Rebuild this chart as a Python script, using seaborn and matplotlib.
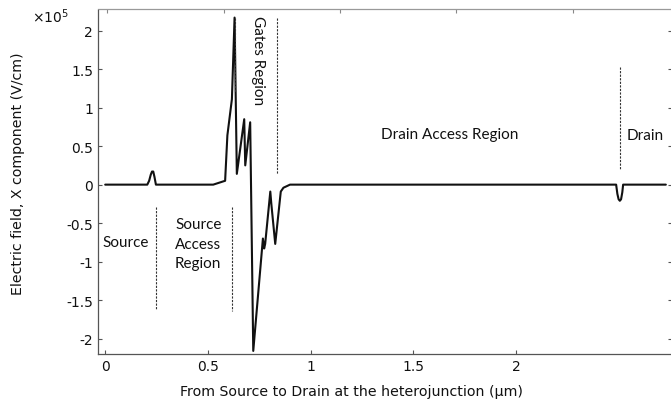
import matplotlib
matplotlib.use("Agg")
import matplotlib.pyplot as plt
import seaborn as sns
import pandas as pd

# Electric field profile along the channel (x in µm, field in 1e5 V/cm)
position_um = [0.0, 0.205, 0.214, 0.222, 0.228, 0.234, 0.240, 0.247,
               0.526, 0.584, 0.595, 0.617, 0.630, 0.641, 0.677, 0.682,
               0.706, 0.721, 0.768, 0.774, 0.779, 0.804, 0.809, 0.828,
               0.855, 0.868, 0.900, 2.488, 2.494, 2.500, 2.506, 2.512,
               2.518, 2.522, 2.730]
field_e5 = [0.0, 0.0, 0.05, 0.13, 0.17, 0.17, 0.10, 0.0,
            0.0, 0.05, 0.64, 1.11, 2.17, 0.14, 0.85, 0.25,
            0.81, -2.16, -0.70, -0.83, -0.77, -0.09, -0.25, -0.77,
            -0.09, -0.04, 0.0, 0.0, -0.12, -0.19, -0.21, -0.19,
            -0.10, 0.0, 0.0]

# Region boundaries drawn as dashed markers: (x, y_start, y_end)
boundary_x = [0.246, 0.618, 0.633, 0.839, 2.507]
boundary_y0 = [-0.29, -0.29, 2.17, 2.17, 1.53]
boundary_y1 = [-1.63, -1.64, 1.20, 0.14, 0.20]

# Region labels
region_text = ["Source", "Source\nAccess\nRegion", "Drain Access Region", "Drain"]
region_x = [0.102, 0.453, 1.677, 2.63]
region_y = [-0.75, -0.77, 0.66, 0.65]

x_ticks = [0, 0.5, 1, 1.5, 2]
x_tick_labels = ["0", "0.5", "1", "1.5", "2"]
y_ticks = [-2, -1.5, -1, -0.5, 0, 0.5, 1, 1.5, 2]
y_tick_labels = ["-2", "-1.5", "-1", "-0.5", "0", "0.5", "1", "1.5", "2"]
top_ticks = [0.01, 0.58, 1.144, 1.709, 2.276]

sns.set_theme(style="ticks")
plt.rcParams["font.family"] = ["DejaVu Sans"]

fig = plt.figure(figsize=(6.71, 4.06), dpi=100)
ax = fig.add_axes([98 / 671, 51 / 406, 574 / 671, 344.5 / 406])

df = pd.DataFrame({"x": position_um, "E": field_e5})
sns.lineplot(data=df, x="x", y="E", ax=ax, sort=False, estimator=None,
             color="#111111", linewidth=1.5)

for bx, y0, y1 in zip(boundary_x, boundary_y0, boundary_y1):
    ax.plot([bx, bx], [y0, y1], color="#333333", linewidth=0.8,
            linestyle=(0, (2.0, 1.2)))

ann_font = dict(family="Lato", fontsize=11, color="#111111")
for t, tx, ty in zip(region_text, region_x, region_y):
    ax.text(tx, ty, t, ha="center", va="center", linespacing=1.5, **ann_font)
ax.text(0.745, 1.63, "Gates Region", rotation=-90, ha="center", va="center",
        **ann_font)

ax.set_xlim(-0.035, 2.76)
ax.set_ylim(-2.2, 2.275)
ax.set_xticks(x_ticks)
ax.set_xticklabels(x_tick_labels)
ax.set_yticks(y_ticks)
ax.set_yticklabels(y_tick_labels)
ax.tick_params(axis="both", direction="in", length=3, width=0.8,
               colors="#555555", labelcolor="#111111", labelsize=10)
ax.tick_params(axis="y", right=True)

for side in ["left", "bottom", "right"]:
    ax.spines[side].set_color("#555555")
    ax.spines[side].set_linewidth(0.9)
ax.spines["top"].set_visible(False)

# Top edge carries its own tick spacing
sec = ax.secondary_xaxis("top")
sec.set_xticks(top_ticks)
sec.set_xticklabels([])
sec.tick_params(direction="in", length=3, width=0.8, colors="#888888")
sec.spines["top"].set_color("#999999")
sec.spines["top"].set_linewidth(0.9)

ax.set_xlabel("From Source to Drain at the heterojunction (µm)", fontsize=10.2,
              color="#111111")
ax.xaxis.set_label_coords((351.5 - 98) / 574, -(392 - 355) / 344.5)
ax.xaxis.label.set_va("center")
ax.set_ylabel("Electric field, X component (V/cm)", fontsize=10.2,
              color="#111111")
ax.yaxis.set_label_coords(-(98 - 18) / 574, (355 - 173.5) / 344.5)
ax.yaxis.label.set_va("center")
fig.text(32 / 671, 1 - 17 / 406, "×10$^5$", fontsize=10, color="#111111",
         ha="left", va="center")

fig.savefig("out.png", dpi=100)
